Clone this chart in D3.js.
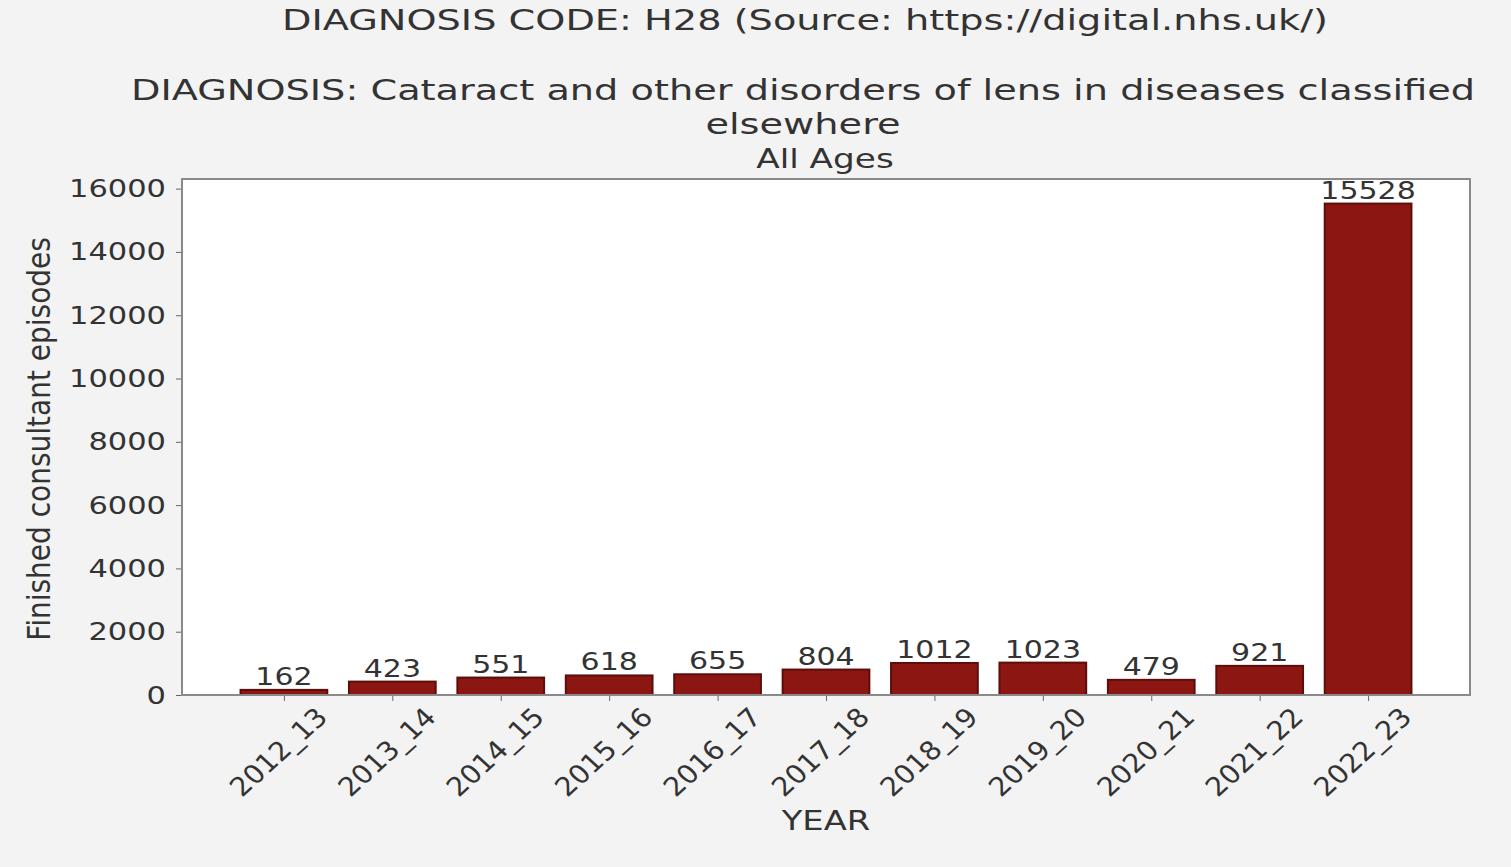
<!DOCTYPE html>
<html><head><meta charset="utf-8">
<script src="https://cdn.jsdelivr.net/npm/d3@7"></script>
<style>
html,body{margin:0;padding:0;background:#f3f3f3;}
svg{display:block;font-family:"DejaVu Sans",sans-serif;}
</style></head>
<body>
<script>
const categories = ["2012_13","2013_14","2014_15","2015_16","2016_17","2017_18","2018_19","2019_20","2020_21","2021_22","2022_23"];
const values = [162,423,551,618,655,804,1012,1023,479,921,15528];
const yTicks = [0,2000,4000,6000,8000,10000,12000,14000,16000];
const titleLines = ["DIAGNOSIS CODE: H28 (Source: https://digital.nhs.uk/)","DIAGNOSIS: Cataract and other disorders of lens in diseases classified","elsewhere","All Ages"];

const W=1511,H=867;
const m={left:182,right:1470,top:179,bottom:695};
const svg=d3.select("body").append("svg").attr("width",W).attr("height",H);
svg.append("rect").attr("width",W).attr("height",H).attr("fill","#f3f3f3");
svg.append("rect").attr("x",m.left).attr("y",m.top).attr("width",m.right-m.left).attr("height",m.bottom-m.top).attr("fill","#fff");

const n=categories.length;
const x=d3.scaleLinear().domain([-0.94,n-1+0.94]).range([m.left,m.right]);
const y=d3.scaleLinear().domain([0,d3.max(values)*1.05]).range([m.bottom,m.top]);
const bw=x(0.8)-x(0);

svg.selectAll("rect.bar").data(values).join("rect").attr("class","bar")
 .attr("x",(d,i)=>x(i)-bw/2).attr("width",bw)
 .attr("y",d=>y(d)).attr("height",d=>y(0)-y(d))
 .attr("fill","#8c1612").attr("stroke","#5c0e0c").attr("stroke-width",2);

svg.selectAll("text.val").data(values).join("text").attr("class","val")
 .attr("transform",(d,i)=>`translate(${x(i)},${y(d)-5}) scale(1.2,1)`)
 .attr("text-anchor","middle").attr("font-size",25).attr("fill","#333").text(d=>d);

// y axis
const ya=svg.append("g").attr("transform",`translate(${m.left},0)`)
 .call(d3.axisLeft(y).tickValues(yTicks).tickSize(6).tickPadding(8).tickFormat(d3.format("d")));
ya.select(".domain").remove();
ya.selectAll("text").attr("font-size",25).attr("fill","#333").attr("font-family","DejaVu Sans")
 .attr("x",null).attr("transform","translate(-16,0) scale(1.22,1)");
ya.selectAll("line").attr("stroke","#666");

// x ticks
const xa=svg.append("g").attr("transform",`translate(0,${m.bottom})`)
 .call(d3.axisBottom(x).tickValues(d3.range(n)).tickSize(6).tickFormat(i=>categories[i]));
xa.select(".domain").remove();
xa.selectAll("line").attr("stroke","#666");
xa.selectAll("text").attr("font-size",26).attr("fill","#333").attr("font-family","DejaVu Sans")
 .attr("text-anchor","middle").attr("dy",null).attr("dominant-baseline","central")
 .attr("y",0).attr("transform","translate(-6,57) scale(1.1,1) rotate(-45)");

// spines
svg.append("rect").attr("x",m.left).attr("y",m.top).attr("width",m.right-m.left).attr("height",m.bottom-m.top)
 .attr("fill","none").attr("stroke","#8a8a8a").attr("stroke-width",2);

// labels
svg.append("text").attr("transform",`translate(${(m.left+m.right)/2},830) scale(1.3,1)`).attr("text-anchor","middle")
 .attr("font-size",26).attr("fill","#333").text("YEAR");
svg.append("text").attr("transform",`translate(50,${(m.top+m.bottom)/2+2}) scale(1.15,1) rotate(-90)`).attr("text-anchor","middle")
 .attr("font-size",28).attr("fill","#333").text("Finished consultant episodes");

const ty=[30,100,134,168];
const tx=[805,803,803,825];
titleLines.forEach((t,i)=>{
 svg.append("text").attr("transform",`translate(${tx[i]},${ty[i]}) scale(1.32,1)`).attr("text-anchor","middle")
  .attr("font-size",i===3?26:29).attr("fill","#333").text(t);
});
</script>
</body></html>
